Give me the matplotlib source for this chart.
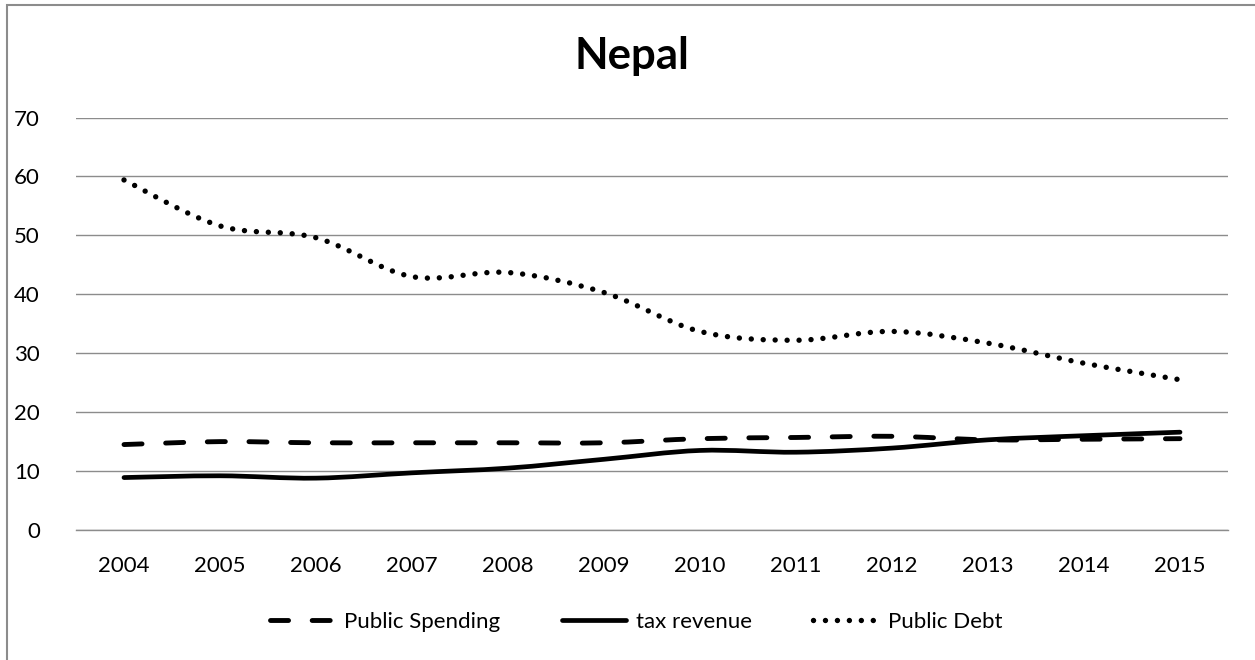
import matplotlib
matplotlib.use("Agg")
import matplotlib.pyplot as plt
from matplotlib.path import Path
from matplotlib.patches import PathPatch, Rectangle
from matplotlib.lines import Line2D
import numpy as np

plt.rcParams['font.family'] = ['Lato', 'DejaVu Sans']
plt.rcParams['lines.scale_dashes'] = False

years = ["2004", "2005", "2006", "2007", "2008", "2009",
         "2010", "2011", "2012", "2013", "2014", "2015"]
public_spending = [14.5, 15.0, 14.8, 14.8, 14.8, 14.8,
                   15.5, 15.7, 15.9, 15.3, 15.4, 15.5]
tax_revenue = [8.9, 9.2, 8.8, 9.7, 10.5, 12.0,
               13.5, 13.2, 13.9, 15.3, 16.0, 16.6]
public_debt = [59.4, 51.6, 49.6, 43.0, 43.7, 40.3,
               33.7, 32.2, 33.7, 31.7, 28.3, 25.5]
y_ticks = [0, 10, 20, 30, 40, 50, 60, 70]

W, H, DPI = 1255, 660, 100
fig = plt.figure(figsize=(W / DPI, H / DPI), dpi=DPI)
ax = fig.add_axes([76 / W, 1 - 530 / H, (1228 - 76) / W, (530 - 117.5) / H])

styles = {
    "Public Spending": dict(linestyle=(0, (13.0, 17.0)), lw=3.5),
    "tax revenue": dict(linestyle="-", lw=3.4),
    "Public Debt": dict(linestyle=(0, (0.01, 8.6)), lw=3.9),
}


def smooth_path(xs, ys, t=1 / 6):
    """Piecewise cubic Bezier through every point (Catmull-Rom style)."""
    pts = np.column_stack([xs, ys]).astype(float)
    n = len(pts)
    verts = [pts[0]]
    codes = [Path.MOVETO]
    for i in range(n - 1):
        p0 = pts[i - 1] if i > 0 else pts[i]
        p1, p2 = pts[i], pts[i + 1]
        p3 = pts[i + 2] if i + 2 < n else pts[i + 1]
        c1 = p1 + (p2 - p0) * t
        c2 = p2 - (p3 - p1) * t
        verts += [c1, c2, p2]
        codes += [Path.CURVE4] * 3
    return Path(verts, codes)


x = np.arange(len(years))
series = [("Public Spending", public_spending),
          ("tax revenue", tax_revenue),
          ("Public Debt", public_debt)]
handles = []
for name, vals in series:
    st = styles[name]
    patch = PathPatch(smooth_path(x, vals), fill=False, edgecolor="black",
                      linewidth=st["lw"], linestyle=st["linestyle"],
                      capstyle="round", joinstyle="round", zorder=3)
    ax.add_patch(patch)
    handles.append(Line2D([], [], color="black", linewidth=st["lw"],
                          linestyle=st["linestyle"],
                          dash_capstyle="round", solid_capstyle="round",
                          label=name))

ax.set_xlim(-0.5, len(years) - 0.5)
ax.set_ylim(0, 70)
ax.set_xticks(x)
ax.set_xticklabels(years)
ax.set_yticks(y_ticks)
ax.set_yticklabels([str(v) for v in y_ticks])
ax.tick_params(axis="both", length=0, labelsize=16, colors="black")
ax.tick_params(axis="y", pad=26)
ax.tick_params(axis="x", pad=19)
ax.grid(axis="y", color="#8c8c8c", linewidth=1.0)
ax.set_axisbelow(True)
for side in ("left", "right", "top"):
    ax.spines[side].set_visible(False)
ax.spines["bottom"].set_color("#8c8c8c")
ax.spines["bottom"].set_linewidth(1.0)

fig.text(0.5 * (575 + 688) / W, 1 - 56 / H, "Nepal", ha="center", va="center",
         fontsize=31.5, fontweight="bold")

fig.legend(handles=handles, loc="center", bbox_to_anchor=(636 / W, 1 - 622 / H),
           ncol=3, frameon=False, fontsize=16, handlelength=2.9,
           handletextpad=0.45, columnspacing=2.75)

fig.patches.append(Rectangle((7 / W, -0.5), 2.0, 0.5 + 1 - 5 / H,
                             transform=fig.transFigure, fill=False,
                             edgecolor="#8c8c8c", linewidth=1.5))

fig.savefig("out.png", dpi=DPI, facecolor="white")
